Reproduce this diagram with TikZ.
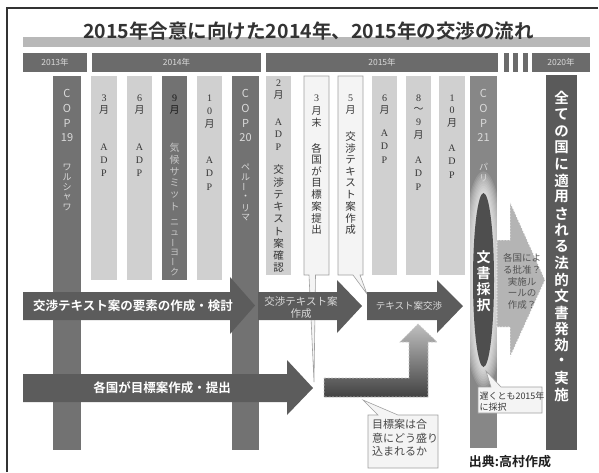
\documentclass[tikz,border=0pt]{standalone}
\usepackage{fontspec}
\setmainfont{Noto Sans CJK JP}[BoldFont={Noto Sans CJK JP Bold}]
\newfontfamily\sr{Liberation Serif}
\usetikzlibrary{shapes.geometric}
\definecolor{cframe}{HTML}{333333}
\definecolor{ctitlebar}{HTML}{B8B8B8}
\definecolor{cyear}{HTML}{6B6B6B}
\definecolor{clight}{HTML}{D0D0D0}
\definecolor{cdark}{HTML}{727272}
\definecolor{ccop}{HTML}{878787}
\definecolor{cfinal}{HTML}{5A5A5A}
\definecolor{carrow}{HTML}{5C5C5C}
\definecolor{cpale}{HTML}{DADADA}
\definecolor{ctxt}{HTML}{363636}
\definecolor{ccall}{HTML}{F4F4F4}
\definecolor{ccallb}{HTML}{A0A0A0}
\definecolor{cellip}{HTML}{4E4E4E}
\definecolor{cfarrow}{HTML}{B4B4B4}
\newcommand\colb[6][]{\node[#1,minimum width={(#5)-(#3)},minimum height={(#6)-(#4)}] (#2) at ({((#3)+(#5))/2},{((#4)+(#6))/2}) {};}
\newcommand\vstk[6][]{\foreach \ch [count=\i from 0] in {#6}{\node[tx,#1] (#2-\i) at ({#3},{(#4)+\i*(#5)}) {\ch};}}
\newcommand\vbar{\rotatebox[origin=c]{90}{ー}}
\begin{document}
\begin{tikzpicture}[x=1pt,y=-1pt,
  tx/.style={inner sep=0pt,outer sep=0pt},
  colbase/.style={rectangle,inner sep=0pt,outer sep=0pt},
  lightcol/.style={colbase,fill=clight},
  darkcol/.style={colbase,fill=cdark},
  yearbar/.style={colbase,fill=cyear},
  calloutshape/.style={fill=ccall,draw=ccallb,line width=0.6pt},
  bigarrow/.style={fill=carrow},
  copt/.style={text=cpale,font=\fontsize{11}{11}\selectfont},
  copk/.style={text=cpale,font=\fontsize{9}{9}\selectfont},
  lt/.style={text=ctxt,font=\fontsize{10}{10}\selectfont},
  ltj/.style={text=ctxt,font=\fontsize{10.5}{10.5}\selectfont},
  ytxt/.style={tx,text=cpale,font=\fontsize{8.5}{8.5}\selectfont},
  wbold/.style={tx,text=white,font=\bfseries\fontsize{12.5}{12.5}\selectfont},
]
\useasboundingbox (0,0) rectangle (599,472);
\fill[white] (0,0) rectangle (599,472);
\draw[cframe,line width=1.3pt] (7,472) -- (7,8) -- (598,8);
% title
\fill[ctitlebar] (23,37) rectangle (590,46.5);
\node[tx,text=cframe,font=\bfseries\fontsize{19.5}{19.5}\selectfont] (title) at (308.5,31.5) {2015年合意に向けた2014年、2015年の交渉の流れ};
% year bars
\colb[yearbar]{y13}{23}{53}{87}{71.5}
\colb[yearbar]{y14}{92}{53}{261}{71.5}
\colb[yearbar]{y15}{266}{53}{498}{71.5}
\colb[yearbar]{yb1}{504}{53}{509}{71.5}
\colb[yearbar]{yb2}{513}{53}{518}{71.5}
\colb[yearbar]{yb3}{523}{53}{528}{71.5}
\colb[yearbar]{y20}{532}{53}{590}{71.5}
\node[ytxt] (y13t) at (y13) {2013年};
\node[ytxt] (y14t) at (y14) {2014年};
\node[ytxt] (y15t) at (y15) {2015年};
\node[ytxt] (y20t) at (y20) {2020年};
% columns
\colb[darkcol]{c1}{53}{76}{81}{450}
\colb[lightcol]{c2}{91}{76}{117}{280}
\colb[lightcol]{c3}{127}{76}{152}{280}
\colb[darkcol]{c4}{162}{76}{187}{280}
\colb[lightcol]{c5}{197}{76}{222}{280}
\colb[darkcol]{c6}{232}{76}{259}{450}
\colb[lightcol]{c7}{266}{76}{291}{275}
\colb[lightcol]{c10}{372}{76}{397}{275}
\colb[lightcol]{c11}{406}{76}{431}{275}
\colb[lightcol]{c12}{439}{76}{465}{275}
\colb[colbase,fill=ccop]{c13}{470}{76}{497}{448}
\colb[colbase,fill=cfinal]{c14}{546}{75}{577}{450}
% callout columns
\filldraw[calloutshape] (304,76) -- (329,76) -- (329,275) -- (315.5,275) -- (314,382) -- (309,275) -- (304,275) -- cycle;
\filldraw[calloutshape] (338,76) -- (363,76) -- (363,275) -- (360,275) -- (367,294) -- (353,275) -- (338,275) -- cycle;
% glow + ellipse
\begin{scope}
\clip (470,76) rectangle (497,448);
\foreach \k in {1,...,9} \fill[white,opacity=0.12] (483.5,280) ellipse ({10.5+1.3*\k} and {87+2.4*\k});
\end{scope}
\node[ellipse,fill=cellip,minimum width=21pt,minimum height=174pt,inner sep=0pt] (adopt) at (483.5,280) {};
% F arrow
\draw[fill=cfarrow,draw=white,dash pattern=on 1.5pt off 1.5pt,line width=0.7pt] (497,240) -- (510,240) -- (510,202) -- (545,280) -- (510,357) -- (510,327) -- (497,327) -- cycle;
% big arrows
\fill[bigarrow] (23,292) -- (230,292) -- (230,277) -- (255,305.5) -- (230,334) -- (230,320) -- (23,320) -- cycle;
\fill[bigarrow] (258,292) -- (337,292) -- (337,280) -- (362,306) -- (337,333) -- (337,320) -- (258,320) -- cycle;
\fill[bigarrow] (367,292) -- (437,292) -- (437,280) -- (463,306) -- (437,333) -- (437,320) -- (367,320) -- cycle;
\fill[bigarrow] (23,374) -- (287,374) -- (287,360) -- (313,388) -- (287,415) -- (287,402) -- (23,402) -- cycle;
\draw[top color=black!25,middle color=black!62,bottom color=black!74,draw=black!22,dash pattern=on 2pt off 1.5pt,line width=0.7pt] (324,378) -- (409,378) -- (409,342) -- (400,342) -- (418,324) -- (437,342) -- (428,342) -- (428,397) -- (324,397) -- cycle;
% lower callouts
\filldraw[calloutshape] (368,415) -- (378,415) -- (363,400) -- (398,415) -- (438,415) -- (438,468) -- (368,468) -- cycle;
\filldraw[calloutshape] (478,387) -- (491,387) -- (486,371) -- (501,387) -- (542,387) -- (542,413) -- (478,413) -- cycle;
% column texts
\vstk[copt]{t1a}{67}{93}{15}{C,O,P,19}
\vstk[copk]{t1b}{67}{167}{10.2}{ワ,ル,シ,ャ,ワ}
\vstk[lt]{t2a}{104}{98}{12}{\sr 3,月}
\vstk[lt]{t2b}{104}{147}{13}{\sr A,\sr D,\sr P}
\vstk[lt]{t3a}{139.5}{98}{12}{\sr 6,月}
\vstk[lt]{t3b}{139.5}{147}{13}{\sr A,\sr D,\sr P}
\vstk[lt,text=black!90]{t4a}{174.5}{98}{12}{\sr 9,月}
\vstk[text=black!22,font=\fontsize{10}{10}\selectfont]{t4b}{174.5}{148}{11.7}{気,候,サ,ミ,ッ,ト}
\vstk[text=black!22,font=\fontsize{9}{9}\selectfont]{t4c}{174.5}{223}{9.8}{ニ,ュ,\vbar,ヨ,\vbar,ク}
\vstk[lt]{t5a}{209.5}{98}{13}{\sr 1,\sr 0,月}
\vstk[lt]{t5b}{209.5}{160}{13.5}{\sr A,\sr D,\sr P}
\vstk[copt]{t6a}{245.5}{93}{15}{C,O,P,20}
\vstk[copk]{t6b}{245.5}{167}{10.2}{ペ,ル,\vbar,・,リ,マ}
\vstk[lt]{t7a}{278.5}{83}{12}{\sr 2,月}
\vstk[lt]{t7b}{278.5}{122}{12.5}{\sr A,\sr D,\sr P}
\vstk[ltj]{t7c}{278.5}{170}{12.25}{交,渉,テ,キ,ス,ト,案,確,認}
\vstk[lt]{t8a}{316.5}{98}{12.5}{\sr 3,月,末}
\vstk[ltj]{t8b}{316.5}{148}{11.7}{各,国,が,目,標,案,提,出}
\vstk[lt]{t9a}{350.5}{98}{12}{\sr 5,月}
\vstk[ltj]{t9b}{350.5}{137}{11.6}{交,渉,テ,キ,ス,ト,案,作,成}
\vstk[lt]{t10a}{384.5}{98}{12}{\sr 6,月}
\vstk[lt]{t10b}{384.5}{133}{13.5}{\sr A,\sr D,\sr P}
\vstk[lt]{t11a}{418.5}{98}{12.3}{\sr 8,～,\sr 9,月}
\vstk[lt]{t11b}{418.5}{160}{13.5}{\sr A,\sr D,\sr P}
\vstk[lt]{t12a}{452}{98}{12.5}{\sr 1,\sr 0,月}
\vstk[lt]{t12b}{452}{148}{13.5}{\sr A,\sr D,\sr P}
\vstk[copt]{t13a}{483.5}{93}{15}{C,O,P,21}
\vstk[copk]{t13b}{483.5}{167}{11}{パ,リ}
\vstk[text=white,font=\bfseries\fontsize{14}{14}\selectfont]{tadopt}{483.5}{257}{16}{文,書,採,択}
\vstk[text=white,font=\bfseries\fontsize{14.5}{14.5}\selectfont]{t14}{561.5}{98}{16.5}{全,て,の,国,に,適,用,さ,れ,る,法,的,文,書,発,効,・,実,施}
% arrow texts
\node[wbold] (tA) at (133,306) {交渉テキスト案の要素の作成・検討};
\node[tx,text=cpale,align=center,font=\fontsize{10.5}{11.5}\selectfont] (tB) at (301,307.5) {交渉テキスト案\\作成};
\node[tx,text=cpale,font=\fontsize{9.5}{9.5}\selectfont] (tC) at (409,306) {テキスト案交渉};
\node[wbold] (tD) at (162,388) {各国が目標案作成・提出};
\node[tx,text=black!68,align=center,font=\fontsize{9.5}{11.7}\selectfont] (tF) at (522,281.5) {各国によ\\る批准？\\実施ル\\ールの\\作成？};
\node[tx,text=black!72,align=left,anchor=north west,font=\fontsize{11}{13.5}\selectfont] (tG) at (372,419.5) {目標案は合\\意にどう盛り\\込まれるか};
\node[tx,text=black!78,align=left,anchor=north west,font=\fontsize{9}{11}\selectfont] (tH) at (479.5,391.5) {遅くとも2015年\\に採択};
\node[tx,text=black!88,font=\bfseries\fontsize{13}{13}\selectfont] (src) at (510,462) {出典:高村作成};
\end{tikzpicture}
\end{document}
